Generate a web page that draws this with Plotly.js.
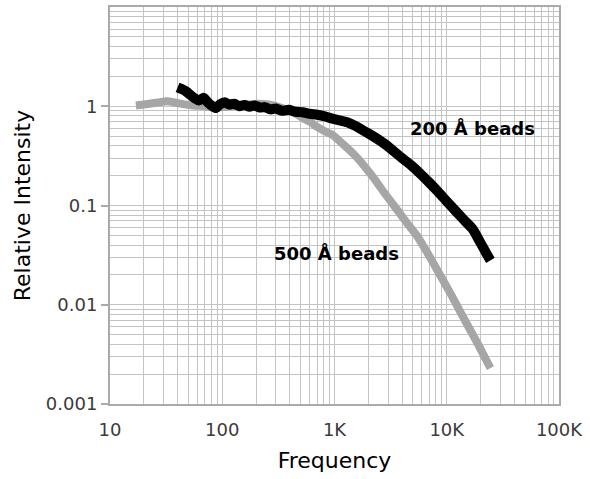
<!DOCTYPE html>
<html>
<head>
<meta charset="utf-8">
<script src="https://cdn.plot.ly/plotly-3.0.1.min.js"></script>
<style>html,body{margin:0;padding:0;background:#fff;}#chart{width:590px;height:479px;}</style>
</head>
<body>
<div id="chart"></div>
<script>
// 500 Å beads (gray)
const freq500 = [17, 20, 24, 28, 32, 38, 45, 55, 70, 90, 120, 160, 200, 260, 330, 420, 520, 600, 700, 820, 970, 1150, 1370, 1650, 1950, 2300, 2700, 3100, 3800, 4500, 5400, 6400, 7500, 9000, 11000, 13500, 16000, 19000, 22000, 24500];
const int500  = [1.02, 1.04, 1.07, 1.10, 1.12, 1.09, 1.05, 1.02, 1.00, 0.97, 1.00, 1.03, 1.06, 1.04, 0.97, 0.88, 0.76, 0.70, 0.62, 0.56, 0.51, 0.43, 0.36, 0.29, 0.23, 0.181, 0.14, 0.114, 0.084, 0.065, 0.050, 0.0366, 0.0269, 0.0187, 0.0125, 0.0081, 0.0057, 0.0040, 0.0029, 0.0023];

// 200 Å beads (black)
const freq200 = [40, 44, 48, 52, 57, 62, 68, 74, 80, 88, 96, 105, 115, 128, 142, 158, 175, 195, 215, 240, 270, 300, 340, 390, 450, 520, 600, 700, 820, 960, 1120, 1300, 1550, 1850, 2200, 2700, 3300, 4000, 4800, 5800, 7000, 8500, 10000, 12000, 14500, 17000, 20000, 22500, 24500];
const int200  = [1.55, 1.48, 1.40, 1.30, 1.20, 1.14, 1.22, 1.10, 1.02, 0.96, 1.05, 1.10, 1.04, 1.06, 1.00, 1.03, 0.99, 1.02, 0.97, 0.98, 0.93, 0.95, 0.90, 0.92, 0.88, 0.87, 0.84, 0.82, 0.79, 0.75, 0.72, 0.69, 0.63, 0.56, 0.50, 0.43, 0.36, 0.30, 0.255, 0.21, 0.17, 0.135, 0.11, 0.088, 0.070, 0.058, 0.042, 0.033, 0.028];

const xTickVals = [10, 100, 1000, 10000, 100000];
const xTickText = ['10', '100', '1K', '10K', '100K'];
const yTickVals = [0.001, 0.01, 0.1, 1];
const yTickText = ['0.001', '0.01', '0.1', '1'];

const gridCol = '#c4c4c4';
const axisCol = '#aaaaaa';

const traces = [
  {x: freq500, y: int500, type: 'scatter', mode: 'lines', name: '500 Å beads',
   line: {color: '#a6a6a6', width: 8, shape: 'spline', smoothing: 0.6, simplify: false}},
  {x: freq200, y: int200, type: 'scatter', mode: 'lines', name: '200 Å beads',
   line: {color: '#000000', width: 10, shape: 'spline', smoothing: 0.6, simplify: false}}
];

const layout = {
  width: 590, height: 479,
  margin: {l: 110, r: 31, t: 7, b: 75},
  paper_bgcolor: '#ffffff', plot_bgcolor: '#ffffff',
  showlegend: false,
  font: {family: 'DejaVu Sans, sans-serif', color: '#3a3a3a'},
  xaxis: {
    type: 'log', range: [1, 5],
    tickvals: xTickVals, ticktext: xTickText,
    ticks: '', ticklabelstandoff: 8,
    tickfont: {family: 'DejaVu Sans', size: 18, color: '#3a3a3a'},
    showgrid: true, gridcolor: gridCol, gridwidth: 1,
    minor: {dtick: 'D1', showgrid: true, gridcolor: gridCol, gridwidth: 1, ticks: ''},
    showline: true, linecolor: axisCol, linewidth: 2, mirror: true,
    zeroline: false,
    title: {text: 'Frequency', font: {family: 'DejaVu Sans', size: 22, color: '#000000'}, standoff: 14}
  },
  yaxis: {
    type: 'log', range: [-3, 1],
    tickvals: yTickVals, ticktext: yTickText,
    ticks: 'outside', ticklen: 7, tickwidth: 2, tickcolor: axisCol,
    tickfont: {family: 'DejaVu Sans', size: 18, color: '#3a3a3a'},
    showgrid: true, gridcolor: gridCol, gridwidth: 1,
    minor: {dtick: 'D1', showgrid: true, gridcolor: gridCol, gridwidth: 1, ticks: ''},
    showline: true, linecolor: axisCol, linewidth: 2, mirror: true,
    zeroline: false,
    title: {text: 'Relative Intensity', font: {family: 'DejaVu Sans', size: 22, color: '#000000'}, standoff: 9}
  },
  annotations: [
    {x: Math.log10(17100), y: Math.log10(0.6), xref: 'x', yref: 'y', text: '<b>200 Å beads</b>',
     showarrow: false, font: {family: 'DejaVu Sans', size: 18, color: '#000000'}},
    {x: Math.log10(1050), y: Math.log10(0.033), xref: 'x', yref: 'y', text: '<b>500 Å beads</b>',
     showarrow: false, font: {family: 'DejaVu Sans', size: 18, color: '#000000'}}
  ]
};

Plotly.newPlot('chart', traces, layout, {staticPlot: true, displayModeBar: false});
</script>
</body>
</html>
